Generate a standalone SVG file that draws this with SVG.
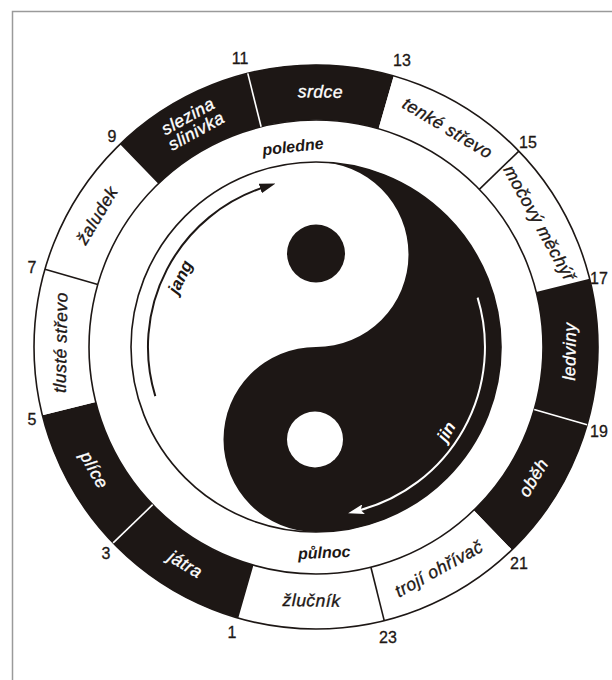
<svg xmlns="http://www.w3.org/2000/svg" xmlns:xlink="http://www.w3.org/1999/xlink" width="612" height="680" viewBox="0 0 612 680">
<style>
.k{fill:#1d1715}
.w{fill:#ffffff}
.ring{fill:none;stroke:#1d1715;stroke-width:1.6}
.dk{stroke:#1d1715;stroke-width:1.6}
.dw{stroke:#ffffff;stroke-width:1.6}
.org{font-family:"Liberation Sans",Arial,sans-serif;font-style:italic;font-size:17.5px;text-anchor:middle;letter-spacing:0.5px;stroke-width:0.35px}
.org.k{stroke:#1d1715}
.org.w{stroke:#ffffff}
.num{font-family:"Liberation Sans",Arial,sans-serif;font-size:16px;text-anchor:middle;fill:#1d1715;stroke:#1d1715;stroke-width:0.3px}
.lbl{font-family:"Liberation Sans",Arial,sans-serif;font-style:italic;font-weight:bold;font-size:16px;text-anchor:middle}
.big{font-size:17px}
</style>
<defs>
<path id="seg" d="M243.01,74.61 A282,282 0 0 1 388.99,74.61 L374.75,127.73 A227,227 0 0 0 257.25,127.73 Z"/>
<line id="div" x1="316" y1="120" x2="316" y2="65"/>
<marker id="ahK" markerUnits="userSpaceOnUse" viewBox="0 0 16 10" markerWidth="16" markerHeight="10" refX="4" refY="5" orient="auto"><path d="M0,0 L16,5 L0,10 Z" fill="#1d1715"/></marker>
<marker id="ahW" markerUnits="userSpaceOnUse" viewBox="0 0 16 10" markerWidth="16" markerHeight="10" refX="4" refY="5" orient="auto"><path d="M0,0 L16,5 L0,10 L3,5 Z" fill="#ffffff"/></marker>
</defs>
<rect x="0" y="0" width="612" height="680" fill="#ffffff"/>
<path d="M12.5,680 L12.5,11.5 L612,11.5" fill="none" stroke="#9a9a9a" stroke-width="1.5"/>

<g id="seg-srdce"><use xlink:href="#seg" class="k" transform="rotate(1 316 347)"/><text class="org w" x="316" y="97.5" transform="rotate(1 316 347)">srdce</text></g>
<g id="seg-tenke"><use xlink:href="#seg" class="w" transform="rotate(31 316 347)"/><text class="org k" x="316" y="97.5" transform="rotate(31 316 347)">tenké střevo</text></g>
<g id="seg-mocovy"><use xlink:href="#seg" class="w" transform="rotate(61 316 347)"/><text class="org k" x="316" y="97.5" transform="rotate(61 316 347)">močový měchýř</text></g>
<g id="seg-ledviny"><use xlink:href="#seg" class="k" transform="rotate(91 316 347)"/><text class="org w" x="316" y="606.5" transform="rotate(-89 316 347)">ledviny</text></g>
<g id="seg-obeh"><use xlink:href="#seg" class="k" transform="rotate(121 316 347)"/><text class="org w" x="316" y="606.5" transform="rotate(-59 316 347)">oběh</text></g>
<g id="seg-troji"><use xlink:href="#seg" class="w" transform="rotate(151 316 347)"/><text class="org k" x="316" y="606.5" transform="rotate(-29 316 347)">trojí ohřívač</text></g>
<g id="seg-zlucnik"><use xlink:href="#seg" class="w" transform="rotate(181 316 347)"/><text class="org k" x="316" y="606.5" transform="rotate(1 316 347)">žlučník</text></g>
<g id="seg-jatra"><use xlink:href="#seg" class="k" transform="rotate(211 316 347)"/><text class="org w" x="316" y="606.5" transform="rotate(31 316 347)">játra</text></g>
<g id="seg-plice"><use xlink:href="#seg" class="k" transform="rotate(241 316 347)"/><text class="org w" x="316" y="606.5" transform="rotate(61 316 347)">plíce</text></g>
<g id="seg-tluste"><use xlink:href="#seg" class="w" transform="rotate(271 316 347)"/><text class="org k" x="316" y="97.5" transform="rotate(271 316 347)">tlusté střevo</text></g>
<g id="seg-zaludek"><use xlink:href="#seg" class="w" transform="rotate(301 316 347)"/><text class="org k" x="316" y="97.5" transform="rotate(301 316 347)">žaludek</text></g>
<g id="seg-slezina"><use xlink:href="#seg" class="k" transform="rotate(331 316 347)"/><text class="org w" transform="rotate(331 316 347)"><tspan x="316" y="89">slezina</tspan><tspan x="316" y="106">slinivka</tspan></text></g>

<g id="ring-lines">
<circle class="ring" cx="316" cy="347" r="282"/>
<circle class="ring" cx="316" cy="347" r="227"/>
<use xlink:href="#div" class="dk" transform="rotate(46 316 347)"/>
<use xlink:href="#div" class="dk" transform="rotate(166 316 347)"/>
<use xlink:href="#div" class="dk" transform="rotate(286 316 347)"/>
<use xlink:href="#div" class="dw" transform="rotate(106 316 347)"/>
<use xlink:href="#div" class="dw" transform="rotate(226 316 347)"/>
<use xlink:href="#div" class="dw" transform="rotate(346 316 347)"/>
</g>

<g id="hours">
<text class="num" x="240" y="64">11</text>
<text class="num" x="402" y="66">13</text>
<text class="num" x="112" y="142">9</text>
<text class="num" x="528" y="148">15</text>
<text class="num" x="32" y="273">7</text>
<text class="num" x="599" y="284">17</text>
<text class="num" x="32" y="425">5</text>
<text class="num" x="599" y="437">19</text>
<text class="num" x="106" y="559">3</text>
<text class="num" x="519" y="569">21</text>
<text class="num" x="232" y="638">1</text>
<text class="num" x="388" y="643">23</text>
</g>

<g id="time-labels">
<text class="lbl k" x="293.5" y="152" transform="rotate(-6.5 293.5 152)">poledne</text>
<text class="lbl k" x="324.5" y="558" transform="rotate(-2.5 324.5 558)">půlnoc</text>
</g>

<g id="yinyang">
<path class="k" d="M316,162 A185,185 0 0 1 316,532 A92.5,92.5 0 0 1 316,347 A92.5,92.5 0 0 0 316,162 Z"/>
<circle class="ring" cx="316" cy="347" r="185"/>
<circle class="k" cx="316" cy="253.5" r="29"/>
<circle class="w" cx="315" cy="439.5" r="28"/>
</g>

<g id="connectors">
<path d="M155.3,396.1 A168,168 0 0 1 264.1,187.2" fill="none" stroke="#1d1715" stroke-width="2" marker-end="url(#ahK)"/>
<path d="M477.6,297.6 A169,169 0 0 1 359.7,510.2" fill="none" stroke="#ffffff" stroke-width="2" marker-end="url(#ahW)"/>
<text class="lbl big k" x="180" y="283" transform="rotate(-64 180 277)">jang</text>
<text class="lbl big w" x="447" y="437" transform="rotate(-60 447 432)">jin</text>
</g>
</svg>
